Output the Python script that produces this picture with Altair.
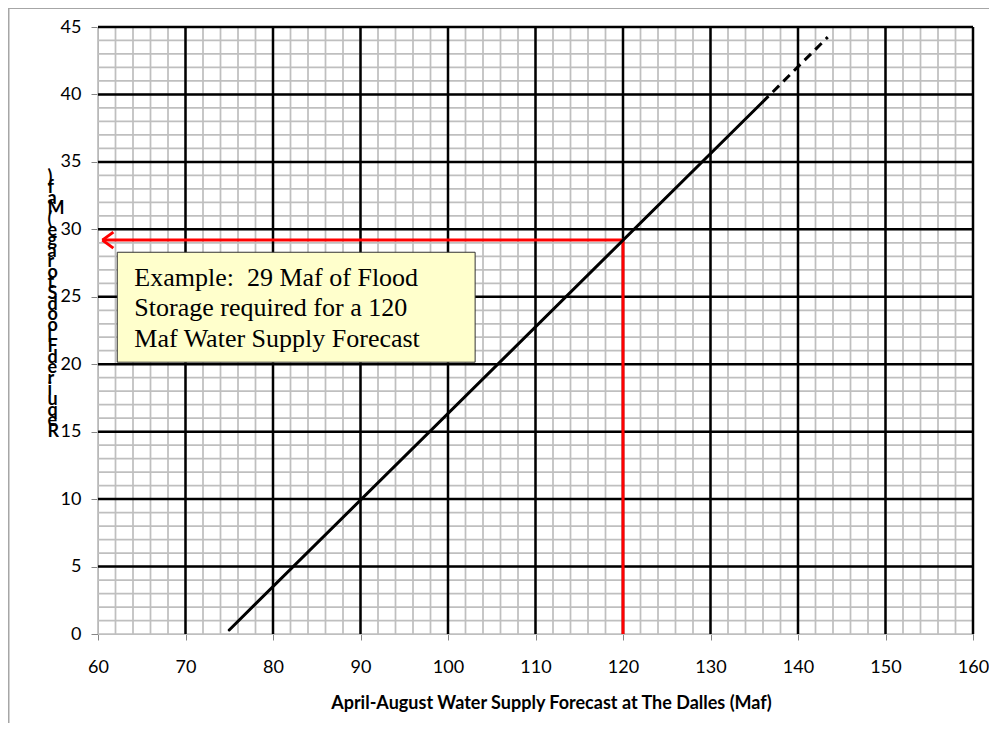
import altair as alt
import pandas as pd

# ---- data ----
X_TICKS = [60, 70, 80, 90, 100, 110, 120, 130, 140, 150, 160]
Y_TICKS = [0, 5, 10, 15, 20, 25, 30, 35, 40, 45]
X_MAJOR_GRID = [70, 80, 90, 100, 110, 120, 130, 140, 150, 160]
Y_MAJOR_GRID = [5, 10, 15, 20, 25, 30, 35, 40, 45]
X_MINOR_GRID = list(range(60, 161, 2))
Y_MINOR_GRID = list(range(0, 46, 1))

SOLID_X = [75.0, 135.9]
SOLID_Y = [0.3, 39.4]
DASH_X = [135.9, 143.4]
DASH_Y = [39.4, 44.25]

EX_X = [120.0, 120.0, 60.5]       # red example path: up from axis, then left
EX_Y = [0.0, 29.2, 29.2]
ARROW_X = [60.5]
ARROW_Y = [29.2]

BOX_X = [62.2]
BOX_X2 = [103.1]
BOX_Y = [28.3]
BOX_Y2 = [20.15]
BOX_TEXT = ["Example:\u00a0 29 Maf of Flood\nStorage required for a 120\nMaf Water Supply Forecast"]
TEXT_X = [64.15]
TEXT_Y = [25.82]

X_TITLE = "April-August Water Supply Forecast at The Dalles (Maf)"
Y_TITLE = "Required Flood Storage (Maf)"

# ---- scales / axes ----
XS = alt.Scale(domain=[60, 160], nice=False, zero=False)
YS = alt.Scale(domain=[0, 45], nice=False, zero=False)
AX_GRAY = "#868686"
FONT = "Lato"

x_axis = alt.Axis(
    values=X_TICKS, grid=False, labelFlush=False, labelOverlap=False,
    domainColor=AX_GRAY, domainWidth=1, tickColor=AX_GRAY, tickWidth=1, tickSize=6,
    labelFont=FONT, labelFontSize=18, labelColor="black", labelPadding=18,
    title=X_TITLE, titleFont=FONT, titleFontSize=18, titleFontWeight="bold",
    titleColor="black", titleX=453, titleAlign="center", titleY=69,
    titleBaseline="middle",
)
y_chars = [c for c in reversed(Y_TITLE) if c != " "]
y_axis = alt.Axis(
    values=Y_TICKS, grid=False, labelFlush=False, labelOverlap=False,
    domainColor=AX_GRAY, domainWidth=1, tickColor=AX_GRAY, tickWidth=1, tickSize=7,
    labelFont=FONT, labelFontSize=18, labelColor="black", labelPadding=10,
    title=y_chars, titleFont=FONT, titleFontSize=18, titleFontWeight="bold",
    titleColor="black", titleAngle=0, titleAlign="left", titleBaseline="top",
    titleX=-51, titleY=141, titleLineHeight=10.6,
)


def X(field="x"):
    return alt.X(f"{field}:Q", scale=XS, axis=x_axis)


def Y(field="y"):
    return alt.Y(f"{field}:Q", scale=YS, axis=y_axis)


minor_v = alt.Chart(pd.DataFrame({"x": X_MINOR_GRID})).mark_rule(
    color="#bfbfbf", strokeWidth=1.75).encode(x=X())
minor_h = alt.Chart(pd.DataFrame({"y": Y_MINOR_GRID})).mark_rule(
    color="#bfbfbf", strokeWidth=1.75).encode(y=Y())
major_v = alt.Chart(pd.DataFrame({"x": X_MAJOR_GRID})).mark_rule(
    color="black", strokeWidth=2.5).encode(x=X())
major_h = alt.Chart(pd.DataFrame({"y": Y_MAJOR_GRID})).mark_rule(
    color="black", strokeWidth=2.5).encode(y=Y())

ex_df = pd.DataFrame({"x": EX_X, "y": EX_Y, "o": list(range(len(EX_X)))})
ex_line = alt.Chart(ex_df).mark_line(color="#ff0000", strokeWidth=3).encode(
    x=X(), y=Y(), order="o:Q")
arrow = alt.Chart(pd.DataFrame({"x": ARROW_X, "y": ARROW_Y})).mark_point(
    shape="M0,0L1,-0.73M0,0L1,0.73", size=484, filled=False,
    stroke="#ff0000", strokeWidth=3, opacity=1).encode(x=X(), y=Y())

solid = alt.Chart(pd.DataFrame({"x": SOLID_X, "y": SOLID_Y})).mark_line(
    color="black", strokeWidth=3, strokeCap="round").encode(x=X(), y=Y())
dashed = alt.Chart(pd.DataFrame({"x": DASH_X, "y": DASH_Y})).mark_line(
    color="black", strokeWidth=3, strokeDash=[9, 6]).encode(x=X(), y=Y())

box = alt.Chart(pd.DataFrame({"x": BOX_X, "x2": BOX_X2, "y": BOX_Y, "y2": BOX_Y2})).mark_rect(
    fill="#ffffcc", stroke="#333333", strokeWidth=1).encode(
    x=X(), x2="x2:Q", y=Y(), y2="y2:Q")
label = alt.Chart(pd.DataFrame({"x": TEXT_X, "y": TEXT_Y, "t": BOX_TEXT})).mark_text(
    align="left", baseline="alphabetic", lineBreak="\n", lineHeight=30.5,
    font="Liberation Serif", fontSize=26, color="black").encode(
    x=X(), y=Y(), text="t:N")

border_top = alt.Chart(pd.DataFrame({"a": [0]})).mark_rule(
    color="#a6a6a6", strokeWidth=2).encode(
    x=alt.value(-89.5), x2=alt.value(895), y=alt.value(-19))
border_left = alt.Chart(pd.DataFrame({"a": [0]})).mark_rule(
    color="#a6a6a6", strokeWidth=2).encode(
    x=alt.value(-89.5), y=alt.value(-19), y2=alt.value(700))

chart = alt.layer(
    minor_v, minor_h, major_v, major_h, ex_line, arrow, solid, dashed,
    box, label, border_top, border_left,
).properties(
    width=875, height=607,
    autosize=alt.AutoSizeParams(type="none"),
    padding={"left": 90, "top": 19, "right": 16, "bottom": 89},
).configure_view(stroke=None).configure(background="white")

chart.save("out.html", embed_options={"renderer": "svg", "actions": False})
